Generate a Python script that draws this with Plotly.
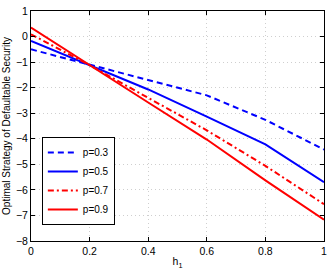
import plotly.graph_objects as go

h1 = [0, 0.2, 0.4, 0.6, 0.8, 1.0]
p03 = [-0.5, -1.1, -1.68, -2.3, -3.26, -4.42]
p05 = [-0.17, -1.12, -2.07, -3.13, -4.22, -5.7]
p07 = [0.09, -1.12, -2.4, -3.67, -5.06, -6.56]
p09 = [0.35, -1.13, -2.58, -4.03, -5.63, -7.17]

names = ["p=0.3", "p=0.5", "p=0.7", "p=0.9"]
series = [p03, p05, p07, p09]
colors = ["#0000ff", "#0000ff", "#ff0000", "#ff0000"]
dashes = ["6px,4px", "solid", "6px,3px,2px,3px", "solid"]

fig = go.Figure()
for n, s, c, d in zip(names, series, colors, dashes):
    fig.add_trace(go.Scatter(x=h1, y=s, mode="lines", name=n,
                             line=dict(color=c, width=2, dash=d)))

font = dict(family="Liberation Sans, Arial, sans-serif", size=10.5, color="black")
axis_common = dict(showline=True, linecolor="black", linewidth=1, mirror="ticks",
                   ticks="inside", ticklen=4, tickcolor="black",
                   showgrid=True, gridcolor="#cfcfcf", griddash="1px,3px", gridwidth=1,
                   zeroline=False, tickfont=font)
fig.update_layout(
    width=332, height=273,
    margin=dict(l=31, r=5, t=8, b=32),
    plot_bgcolor="white", paper_bgcolor="white",
    font=font,
    xaxis=dict(range=[0, 1], tickvals=[0, 0.2, 0.4, 0.6, 0.8, 1],
               ticktext=["0", "0.2", "0.4", "0.6", "0.8", "1"],
               title=dict(text="h<sub>1</sub>", font=font, standoff=2), **axis_common),
    yaxis=dict(range=[-8, 1], tickvals=list(range(-8, 2)),
               ticktext=["−8", "−7", "−6", "−5", "−4", "−3", "−2", "−1", "0", "1"],
               title=dict(text="Optimal Strategy of Defaultable Security",
                          font=dict(family=font["family"], size=10, color="black"), standoff=3),
               **axis_common),
    legend=dict(x=0.037, y=0.07, xanchor="left", yanchor="bottom",
                bgcolor="white", bordercolor="black", borderwidth=1,
                font=dict(family=font["family"], size=10, color="black"),
                itemwidth=30, tracegroupgap=0),
    showlegend=True,
)
fig.write_html("out.html", config={"displayModeBar": False},
               post_script="document.body.style.margin='0';document.body.style.overflow='hidden';")
